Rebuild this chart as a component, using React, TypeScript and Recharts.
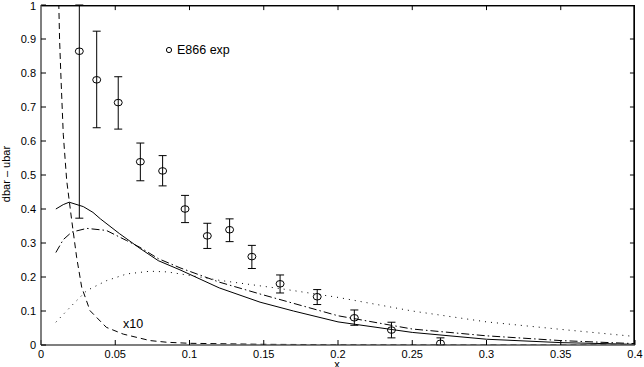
import React from "react";
import {
  ComposedChart,
  Line,
  Scatter,
  ErrorBar,
  XAxis,
  YAxis,
  Legend,
  ReferenceDot,
  ReferenceLine,
} from "recharts";

// E866 data points (errors cut where they leave the frame)
const E866_X = [0.0258, 0.0375, 0.052, 0.0669, 0.0819, 0.097, 0.112, 0.127, 0.142, 0.161, 0.186, 0.211, 0.236, 0.269];
const E866_Y = [0.864, 0.78, 0.713, 0.539, 0.512, 0.4, 0.321, 0.339, 0.26, 0.18, 0.142, 0.08, 0.044, 0.005];
const E866_LO = [0.491, 0.141, 0.078, 0.056, 0.044, 0.04, 0.037, 0.035, 0.035, 0.027, 0.023, 0.022, 0.023, 0.005];
const E866_HI = [0.136, 0.143, 0.076, 0.055, 0.045, 0.04, 0.037, 0.032, 0.033, 0.026, 0.021, 0.023, 0.023, 0.016];

// solid curve
const SOLID_X = [0.01, 0.015, 0.019, 0.0285, 0.035, 0.04, 0.053, 0.0667, 0.079, 0.0936, 0.12, 0.1475, 0.17, 0.2, 0.25, 0.3, 0.35, 0.4];
const SOLID_Y = [0.4, 0.413, 0.42, 0.407, 0.39, 0.371, 0.327, 0.284, 0.248, 0.221, 0.168, 0.126, 0.1, 0.068, 0.037, 0.017, 0.007, 0.002];

// dash-dot curve
const DASHDOT_X = [0.01, 0.015, 0.0207, 0.0308, 0.044, 0.0577, 0.0667, 0.079, 0.0936, 0.12, 0.1475, 0.2, 0.25, 0.3, 0.35, 0.4];
const DASHDOT_Y = [0.272, 0.31, 0.332, 0.343, 0.337, 0.307, 0.287, 0.254, 0.227, 0.185, 0.15, 0.086, 0.047, 0.027, 0.013, 0.004];

// dotted curve
const DOTTED_X = [0.01, 0.0218, 0.0308, 0.044, 0.0577, 0.0734, 0.085, 0.107, 0.1205, 0.161, 0.2, 0.25, 0.3, 0.35, 0.4];
const DOTTED_Y = [0.067, 0.121, 0.16, 0.189, 0.209, 0.217, 0.215, 0.2, 0.19, 0.166, 0.14, 0.1, 0.068, 0.046, 0.025];

// dashed curve (x10)
const DASHED_X = [0.01, 0.011, 0.012, 0.0125, 0.0135, 0.015, 0.0173, 0.0207, 0.024, 0.0274, 0.033, 0.044, 0.0554, 0.0734, 0.085, 0.1, 0.15, 0.2, 0.3, 0.4];
const DASHED_Y = [1.8, 1.3, 1.0, 0.9, 0.78, 0.62, 0.484, 0.366, 0.258, 0.17, 0.101, 0.052, 0.032, 0.013, 0.008, 0.005, 0.002, 0.001, 0.0003, 0.0001];

const X_TICKS = [0, 0.05, 0.1, 0.15, 0.2, 0.25, 0.3, 0.35, 0.4];
const Y_TICKS = [0, 0.1, 0.2, 0.3, 0.4, 0.5, 0.6, 0.7, 0.8, 0.9, 1];
const X_MAX = 0.4;
const Y_MAX = 1;

// frame drawn a hair inside the plot so the clip rect doesn't eat it
const FRAME_X = X_MAX - 0.0005;
const FRAME_Y = Y_MAX - 0.002;

const toRows = (xs: number[], ys: number[]) => xs.map((x, i) => ({ x, y: ys[i] }));

const points = E866_X.map((x, i) => ({ x, y: E866_Y[i], err: [E866_LO[i], E866_HI[i]] }));
const solid = toRows(SOLID_X, SOLID_Y);
const dashDot = toRows(DASHDOT_X, DASHDOT_Y);
const dotted = toRows(DOTTED_X, DOTTED_Y);
const dashed = toRows(DASHED_X, DASHED_Y);
const frame = [
  { x: 0, y: FRAME_Y },
  { x: FRAME_X, y: FRAME_Y },
  { x: FRAME_X, y: 0 },
];

const FONT = "'Liberation Sans', Arial, Helvetica, sans-serif";
const tickStyle = { fontSize: 11, fill: "#000", fontFamily: FONT };
const fmt = (v: number) => String(v);

// inward tick length on the top / right frame, in data units (~5px)
const TOP_TICK = 0.015;
const RIGHT_TICK = 0.0034;

const Marker = (props: any) => (
  <ellipse cx={props.cx} cy={props.cy} rx={4} ry={3.3} fill="none" stroke="#000" strokeWidth={1} />
);

const LegendBox = () => (
  <div style={{ display: "flex", alignItems: "center", fontFamily: FONT, fontSize: 12.5, color: "#000" }}>
    <svg width={10} height={10} style={{ marginRight: 3 }}>
      <circle cx={5} cy={5} r={2.6} fill="none" stroke="#000" strokeWidth={1} />
    </svg>
    <span>E866 exp</span>
  </div>
);

export default function App() {
  return (
    <div style={{ position: "absolute", left: 0, top: 0, width: 644, height: 367, background: "#fff" }}>
      <ComposedChart width={644} height={367} margin={{ top: 5, right: 9, bottom: 0, left: 0 }}>
        <XAxis
          type="number"
          dataKey="x"
          domain={[0, X_MAX]}
          ticks={X_TICKS}
          tickFormatter={fmt}
          allowDataOverflow
          height={22}
          tickSize={-5}
          tickMargin={10}
          tick={tickStyle}
          stroke="#555"
          strokeWidth={1.5}
          tickLine={{ stroke: "#000", strokeWidth: 1 }}
          label={{
            value: "x",
            content: () => (
              <text x={337} y={368} textAnchor="middle" fontSize={11} fontFamily={FONT} fill="#000">
                x
              </text>
            ),
          }}
        />
        <YAxis
          type="number"
          domain={[0, Y_MAX]}
          ticks={Y_TICKS}
          tickFormatter={fmt}
          allowDataOverflow
          width={41}
          tickSize={-5}
          tickMargin={10}
          tick={tickStyle}
          stroke="#555"
          strokeWidth={1.5}
          tickLine={{ stroke: "#000", strokeWidth: 1 }}
          label={{
            value: "dbar – ubar",
            content: () => (
              <text
                x={10}
                y={174}
                transform="rotate(-90 10 174)"
                textAnchor="middle"
                fontSize={11}
                fontFamily={FONT}
                fill="#000"
              >
                dbar – ubar
              </text>
            ),
          }}
        />

        {/* top and right edges of the box */}
        <ReferenceLine y={FRAME_Y} ifOverflow="visible" stroke="#000" strokeWidth={1.2} />
        <ReferenceLine x={FRAME_X} ifOverflow="visible" stroke="#000" strokeWidth={1.5} />

        {/* inward ticks on the top and right edges */}
        {X_TICKS.slice(1, -1).map((t) => (
          <ReferenceLine
            key={`tx${t}`}
            segment={[
              { x: t, y: Y_MAX },
              { x: t, y: Y_MAX - TOP_TICK },
            ]}
            ifOverflow="visible"
            stroke="#000"
            strokeWidth={1}
          />
        ))}
        {Y_TICKS.slice(1, -1).map((t) => (
          <ReferenceLine
            key={`ty${t}`}
            segment={[
              { x: X_MAX, y: t },
              { x: X_MAX - RIGHT_TICK, y: t },
            ]}
            ifOverflow="visible"
            stroke="#000"
            strokeWidth={1}
          />
        ))}

        <Line
          data={frame}
          dataKey="y"
          type="linear"
          stroke="#000"
          strokeWidth={1.2}
          dot={false}
          activeDot={false}
          legendType="none"
          isAnimationActive={false}
        />

        <Line data={solid} dataKey="y" type="linear" stroke="#000" strokeWidth={1} dot={false} isAnimationActive={false} />
        <Line
          data={dashDot}
          dataKey="y"
          type="linear"
          stroke="#000"
          strokeWidth={1}
          strokeDasharray="8 3 1.5 3"
          dot={false}
          isAnimationActive={false}
        />
        <Line
          data={dotted}
          dataKey="y"
          type="linear"
          stroke="#000"
          strokeWidth={1}
          strokeDasharray="1 5"
          dot={false}
          isAnimationActive={false}
        />
        <Line
          data={dashed}
          dataKey="y"
          type="linear"
          stroke="#000"
          strokeWidth={1}
          strokeDasharray="6 4"
          dot={false}
          isAnimationActive={false}
        />

        <Scatter data={points} dataKey="y" shape={Marker} isAnimationActive={false}>
          <ErrorBar dataKey="err" direction="y" width={4} stroke="#000" strokeWidth={1} />
        </Scatter>

        <ReferenceDot
          x={0.062}
          y={0.064}
          r={0}
          fill="none"
          stroke="none"
          label={{ value: "x10", position: "center", fontSize: 12.5, fontFamily: FONT, fill: "#000" }}
        />

        <Legend
          verticalAlign="middle"
          align="center"
          layout="horizontal"
          content={() => <LegendBox />}
          wrapperStyle={{ position: "absolute", left: 164, top: 43, width: "auto" }}
        />
      </ComposedChart>
    </div>
  );
}
